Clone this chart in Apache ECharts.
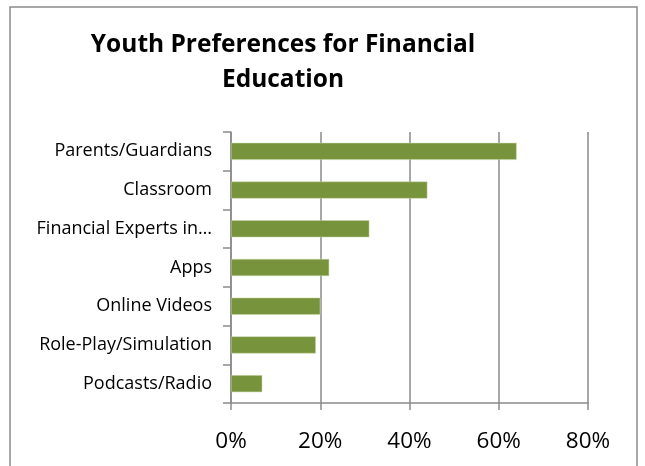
<!DOCTYPE html>
<html><head><meta charset="utf-8">
<script src="https://cdn.jsdelivr.net/npm/echarts@6/dist/echarts.min.js"></script>
<style>html,body{margin:0;padding:0;background:#fff}#c{width:645px;height:466px}</style>
</head><body><div id="c"></div>
<script>
const categories = ["Parents/Guardians","Classroom","Financial Experts in…","Apps","Online Videos","Role-Play/Simulation","Podcasts/Radio"];
const values = [0.64,0.44,0.31,0.22,0.20,0.19,0.07];
const xTicks = [0,0.2,0.4,0.6,0.8];
const titleLines = ["Youth Preferences for Financial","Education"];

const chart = echarts.init(document.getElementById('c'));
const font = "'Open Sans','Noto Sans',sans-serif";
chart.setOption({
  animation:false,
  graphic:[
    {type:'rect',shape:{x:10,y:7,width:627,height:470},style:{fill:'none',stroke:'#8a8a8a',lineWidth:1.5},z:-1},
    {type:'text',x:283,y:45,style:{text:titleLines[0],font:"bold 24.5px "+font,fill:'#000',align:'center',verticalAlign:'middle'}},
    {type:'text',x:283,y:80,style:{text:titleLines[1],font:"bold 24.5px "+font,fill:'#000',align:'center',verticalAlign:'middle'}}
  ],
  grid:{left:231,right:57,top:132,bottom:63,containLabel:false},
  xAxis:{type:'value',min:xTicks[0],max:xTicks[xTicks.length-1],interval:0.2,
    axisLine:{show:true,lineStyle:{color:'#8a8a8a',width:1.5}},
    axisTick:{show:true,length:7,lineStyle:{color:'#8a8a8a',width:1.5}},
    splitLine:{show:true,lineStyle:{color:'#8a8a8a',width:1.5}},
    axisLabel:{formatter:v=>Math.round(v*100)+'%',fontSize:22.5,color:'#000',fontFamily:font,margin:27}},
  yAxis:{type:'category',data:categories,inverse:true,
    axisLine:{show:true,lineStyle:{color:'#8a8a8a',width:1.5}},
    axisTick:{show:true,length:8,lineStyle:{color:'#8a8a8a',width:1.5}},
    splitLine:{show:false},
    axisLabel:{fontSize:18,color:'#000',fontFamily:font,margin:19}},
  series:[{type:'bar',data:values,barWidth:'44%',itemStyle:{color:'#77933C',borderColor:'#c8d6a8',borderWidth:0.5}}]
});
</script></body></html>
